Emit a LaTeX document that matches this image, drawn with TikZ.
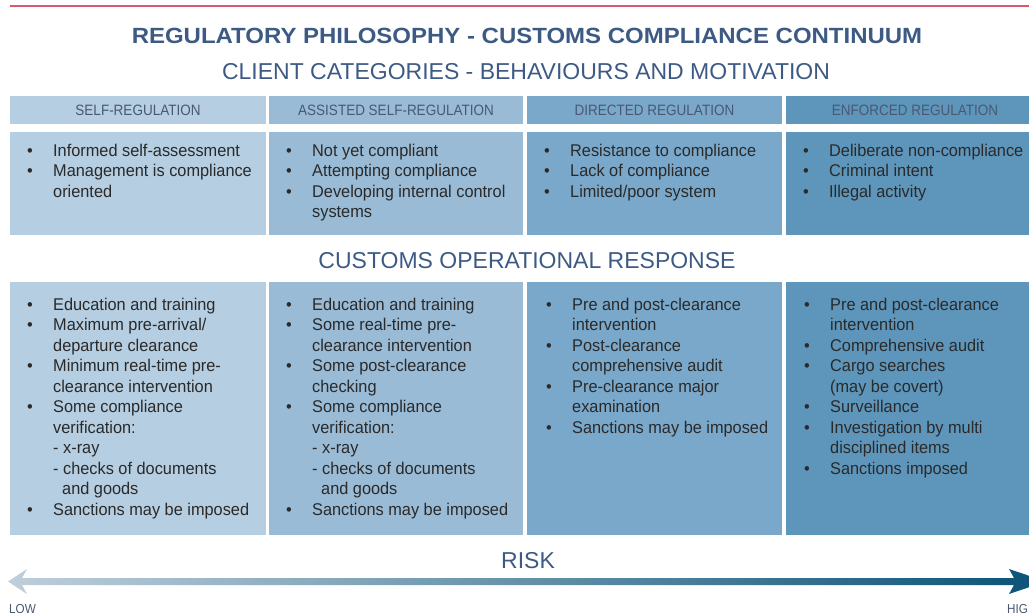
\documentclass[tikz,border=0pt]{standalone}
\usepackage{fontspec}
\setmainfont{Liberation Sans}
\newfontfamily\bodyf[FakeStretch=0.96]{Liberation Sans}
\newfontfamily\headf[FakeStretch=0.9]{Liberation Sans}
\newfontfamily\titlef[FakeStretch=1.09]{Liberation Sans}

\definecolor{redline}{HTML}{D65A6E}
\definecolor{titleblue}{HTML}{3D5A84}
\definecolor{hdrtext}{HTML}{4A5872}
\definecolor{bodytext}{HTML}{2A2A2A}
\definecolor{colA}{HTML}{B5CEE1}
\definecolor{colB}{HTML}{99BBD6}
\definecolor{colC}{HTML}{7AA8CA}
\definecolor{colD}{HTML}{5E95BB}
\definecolor{arrowL}{HTML}{BFCFDB}
\definecolor{arrowM}{HTML}{7893A8}
\definecolor{arrowR}{HTML}{0A5276}

% bullet and continuation indents for the list cells
\newcommand\bi{\makebox[26pt][l]{\textbullet}}
\newcommand\ci{\hspace*{26pt}}
\newcommand\firstline{\rule{0pt}{16pt}}

\tikzset{
  hdr/.style={minimum height=28pt, inner sep=0pt,
    font=\headf\fontsize{15}{18}\selectfont, text=hdrtext},
  cell/.style={anchor=north west, inner sep=0pt, align=left,
    font=\bodyf\fontsize{17}{20.5}\selectfont, text=bodytext},
  heading/.style={anchor=base, inner sep=0pt,
    font=\fontsize{23}{27}\selectfont, text=titleblue},
  scalelabel/.style={anchor=base west, inner sep=0pt,
    font=\headf\fontsize{13}{15}\selectfont, text=hdrtext},
}

\begin{document}
\begin{tikzpicture}[x=1pt,y=-1pt]
\useasboundingbox (0,0) rectangle (1029,616);

% top rule
\draw[redline, line width=2pt] (10,6) -- (1040,6);

% titles
\node[anchor=base, inner sep=0pt, font=\titlef\bfseries\fontsize{22}{26}\selectfont,
  text=titleblue] (title) at (527,43)
  {REGULATORY PHILOSOPHY - CUSTOMS COMPLIANCE CONTINUUM};
\node[heading] (subtitle) at (526,79) {CLIENT CATEGORIES - BEHAVIOURS AND MOTIVATION};

% column headers
\node[hdr, fill=colA, minimum width=256pt] (h1) at (138,110) {SELF-REGULATION};
\node[hdr, fill=colB, minimum width=254pt] (h2) at (396,110) {ASSISTED SELF-REGULATION};
\node[hdr, fill=colC, minimum width=255pt] (h3) at (654.5,110) {DIRECTED REGULATION};
\node[hdr, fill=colD, minimum width=258pt] (h4) at (915,110) {ENFORCED REGULATION};

% behaviour row
\fill[colA] (10,132) rectangle (266,235);
\fill[colB] (269,132) rectangle (523,235);
\fill[colC] (527,132) rectangle (782,235);
\fill[colD] (786,132) rectangle (1044,235);

\node[cell] (b1) at (27,140) {\firstline\bi Informed self-assessment\\
  \bi Management is compliance\\ \ci oriented};
\node[cell] (b2) at (286,140) {\firstline\bi Not yet compliant\\
  \bi Attempting compliance\\ \bi Developing internal control\\ \ci systems};
\node[cell] (b3) at (544,140) {\firstline\bi Resistance to compliance\\
  \bi Lack of compliance\\ \bi Limited/poor system};
\node[cell] (b4) at (803,140) {\firstline\bi Deliberate non-compliance\\
  \bi Criminal intent\\ \bi Illegal activity};

% response heading
\node[heading] (response) at (527,268) {CUSTOMS OPERATIONAL RESPONSE};

% response row
\fill[colA] (10,282) rectangle (266,535);
\fill[colB] (269,282) rectangle (523,535);
\fill[colC] (527,282) rectangle (782,535);
\fill[colD] (786,282) rectangle (1044,535);

\node[cell] (r1) at (27,294) {\firstline\bi Education and training\\
  \bi Maximum pre-arrival/\\ \ci departure clearance\\
  \bi Minimum real-time pre-\\ \ci clearance intervention\\
  \bi Some compliance\\ \ci verification:\\ \ci - x-ray\\
  \ci - checks of documents\\ \ci\hspace*{9pt}and goods\\
  \bi Sanctions may be imposed};
\node[cell] (r2) at (286,294) {\firstline\bi Education and training\\
  \bi Some real-time pre-\\ \ci clearance intervention\\
  \bi Some post-clearance\\ \ci checking\\
  \bi Some compliance\\ \ci verification:\\ \ci - x-ray\\
  \ci - checks of documents\\ \ci\hspace*{9pt}and goods\\
  \bi Sanctions may be imposed};
\node[cell] (r3) at (546,294) {\firstline\bi Pre and post-clearance\\
  \ci intervention\\ \bi Post-clearance\\ \ci comprehensive audit\\
  \bi Pre-clearance major\\ \ci examination\\
  \bi Sanctions may be imposed};
\node[cell] (r4) at (804,294) {\firstline\bi Pre and post-clearance\\
  \ci intervention\\ \bi Comprehensive audit\\
  \bi Cargo searches\\ \ci (may be covert)\\ \bi Surveillance\\
  \bi Investigation by multi\\ \ci disciplined items\\
  \bi Sanctions imposed};

% risk scale
\node[heading] (risk) at (528,568) {RISK};
\coordinate (lowend) at (8,581.5);
\coordinate (highend) at (1046,581.5);
\shade[left color=arrowL, middle color=arrowM, right color=arrowR]
  (lowend) -- ++(19,-12.5) -- ++(-5,9) -- (1014,578) -- (1009,569)
  -- (highend) -- (1009,594) -- (1014,585) -- (22,585) -- (27,594) -- cycle;
\node[scalelabel] (low) at (9,613) {LOW};
\node[scalelabel] (high) at (1007,613) {HIGH};
\end{tikzpicture}
\end{document}
